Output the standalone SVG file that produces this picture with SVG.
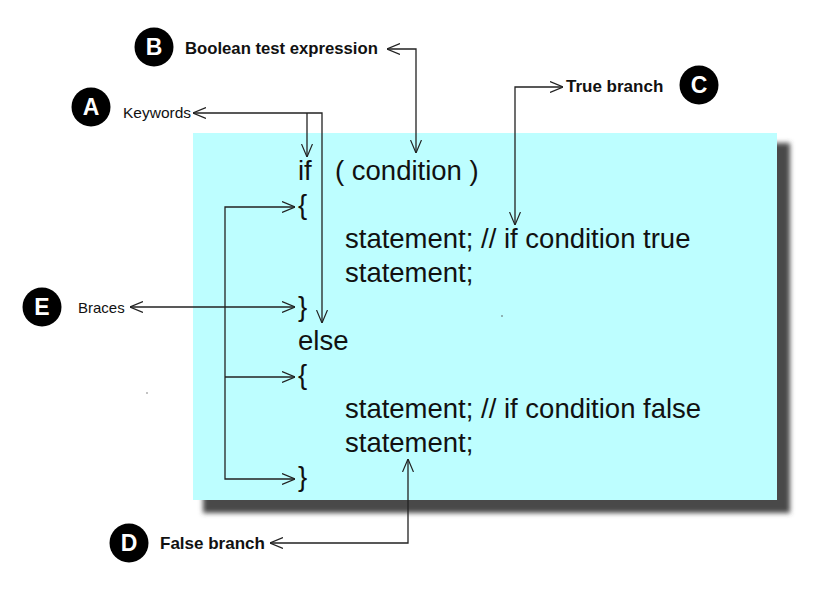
<svg xmlns="http://www.w3.org/2000/svg" width="829" height="590" viewBox="0 0 829 590">
  <defs>
    <filter id="blur" x="-5%" y="-5%" width="110%" height="110%">
      <feGaussianBlur stdDeviation="2.5"/>
    </filter>
    <marker id="ah" viewBox="0 0 13 12" refX="13" refY="6" markerWidth="13" markerHeight="12" markerUnits="userSpaceOnUse" orient="auto-start-reverse">
      <path d="M0,0.5 L13,6 L0,11.5" fill="none" stroke="#222" stroke-width="1.2"/>
    </marker>
  </defs>
  <style>
    .code { font-family: "Liberation Sans", Arial, sans-serif; font-size: 27.5px; fill: #111; }
    .lbl { font-family: "Liberation Sans", Arial, sans-serif; font-weight: bold; fill: #111; }
    .lblr { font-family: "Liberation Sans", Arial, sans-serif; fill: #111; }
    .badge circle { fill: #000; }
    .badge text { font-family: "Liberation Sans", Arial, sans-serif; font-weight: bold; font-size: 23px; fill: #fff; text-anchor: middle; }
    .conn path { fill: none; stroke: #222; stroke-width: 1.3; }
  </style>
  <rect width="829" height="590" fill="#fff"/>

  <g id="box">
    <rect x="203" y="143" width="587" height="370" fill="#4a4a4a" filter="url(#blur)"/>
    <rect x="193" y="133" width="584" height="367" fill="#BDFEFF"/>
    <circle cx="502" cy="316" r="0.8" fill="#555"/>
  </g>
  <circle cx="147" cy="393" r="0.8" fill="#777"/>

  <g id="code">
    <text class="code" x="298" y="180">if</text>
    <text class="code" x="335" y="180">( condition )</text>
    <text class="code" x="298" y="214">{</text>
    <text class="code" x="345" y="248">statement; // if condition true</text>
    <text class="code" x="345" y="282">statement;</text>
    <text class="code" x="298" y="316">}</text>
    <text class="code" x="298" y="350">else</text>
    <text class="code" x="298" y="384">{</text>
    <text class="code" x="345" y="418">statement; // if condition false</text>
    <text class="code" x="345" y="452">statement;</text>
    <text class="code" x="298" y="486">}</text>
  </g>

  <g id="nodeA" class="badge">
    <circle cx="91" cy="107" r="19.5"/>
    <text x="91" y="115">A</text>
  </g>
  <text id="lblKeywords" class="lblr" x="123" y="118" font-size="15.5">Keywords</text>

  <g id="nodeB" class="badge">
    <circle cx="154" cy="47" r="19.5"/>
    <text x="154" y="55">B</text>
  </g>
  <text id="lblBoolean" class="lbl" x="185" y="54" font-size="16.7">Boolean test expression</text>

  <g id="nodeC" class="badge">
    <circle cx="699" cy="85" r="19.5"/>
    <text x="699" y="93">C</text>
  </g>
  <text id="lblTrue" class="lbl" x="566" y="92" font-size="17">True branch</text>

  <g id="nodeD" class="badge">
    <circle cx="129" cy="543" r="19.5"/>
    <text x="129" y="551">D</text>
  </g>
  <text id="lblFalse" class="lbl" x="160" y="549" font-size="17">False branch</text>

  <g id="nodeE" class="badge">
    <circle cx="42" cy="307" r="19.5"/>
    <text x="42" y="315">E</text>
  </g>
  <text id="lblBraces" class="lblr" x="78" y="313" font-size="15">Braces</text>

  <g id="connectors" class="conn">
    <path d="M193,113 L322,113 L322,323" marker-start="url(#ah)" marker-end="url(#ah)"/>
    <path d="M307,113 L307,157" marker-end="url(#ah)"/>
    <path d="M387,49 L416,49 L416,153" marker-start="url(#ah)" marker-end="url(#ah)"/>
    <path d="M515,225 L515,87 L563,87" marker-start="url(#ah)" marker-end="url(#ah)"/>
    <path d="M270,543 L408,543 L408,459" marker-start="url(#ah)" marker-end="url(#ah)"/>
    <path d="M130,307 L295,307" marker-start="url(#ah)" marker-end="url(#ah)"/>
    <path d="M295,207 L225,207 L225,479 L295,479" marker-start="url(#ah)" marker-end="url(#ah)"/>
    <path d="M225,377 L295,377" marker-end="url(#ah)"/>
  </g>
</svg>
